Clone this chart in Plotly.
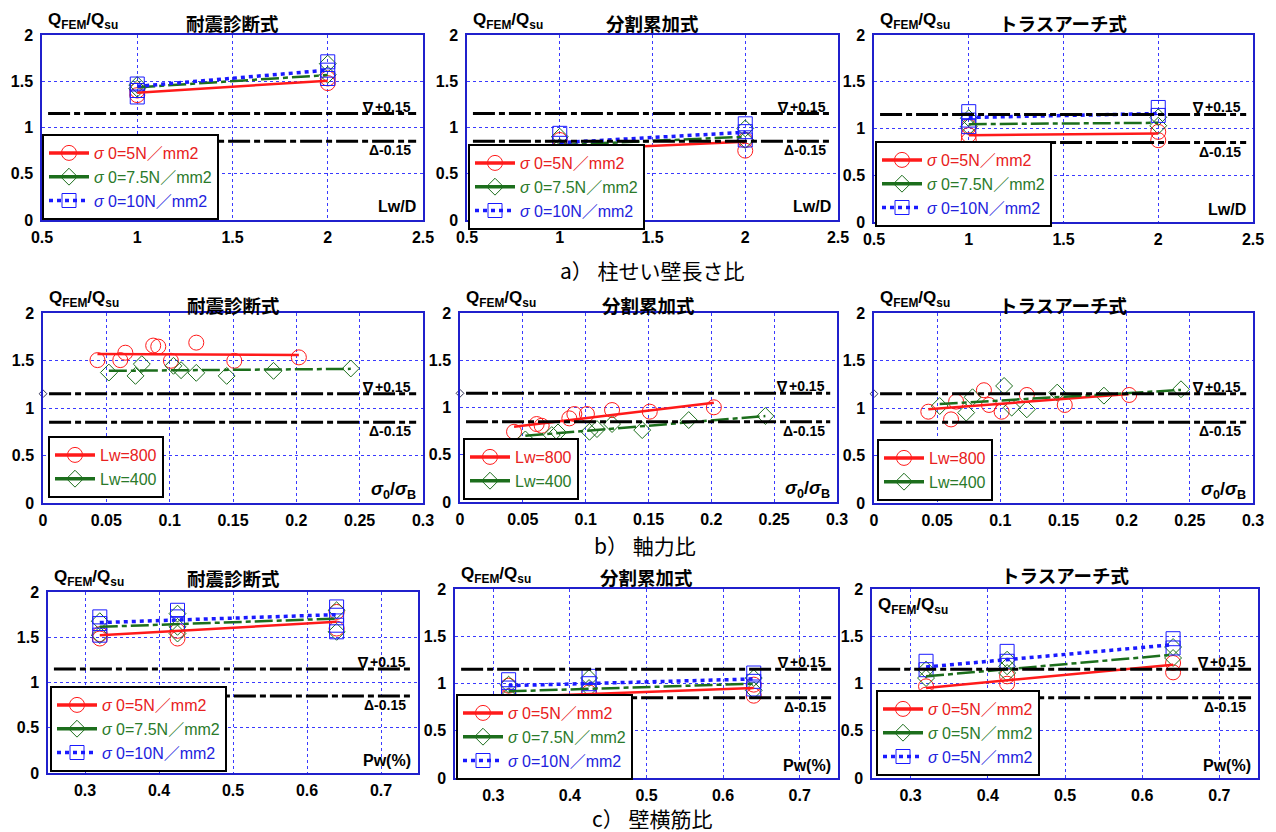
import plotly.graph_objects as go

W, H = 1276, 832

# ---------------- data ----------------
A_X = [1, 2]                      # Lw/D
C_X = [0.32, 0.425, 0.64]         # Pw(%)
B_R_X = [0.043, 0.061, 0.065, 0.087, 0.091, 0.101, 0.121, 0.151, 0.202]   # σ0/σB (Lw=800)
B_G_X = [0.052, 0.073, 0.078, 0.103, 0.109, 0.121, 0.145, 0.182, 0.243]   # σ0/σB (Lw=400)
B_MARK_X = [0]
B_MARK_Y = [1.15]
REF_LINES = [1.15, 0.85]
REF_LABELS = ["∇+0.15", "Δ-0.15"]

# a) 柱せい壁長さ比  -- values grouped per x in A_X
a1_r = [[1.40, 1.35], [1.53, 1.48]]
a1_g = [[1.46, 1.42], [1.69, 1.57]]
a1_b = [[1.47, 1.40, 1.33], [1.71, 1.62, 1.53]]
a1_r_fit = [1.377, 1.506]
a1_g_fit = [1.434, 1.567]
a1_b_fit = [1.445, 1.62]

a2_r = [[0.865, 0.775, 0.703], [0.865, 0.75]]
a2_g = [[0.90, 0.79, 0.74], [0.99, 0.865]]
a2_b = [[0.937, 0.829, 0.739], [1.04, 0.955, 0.865]]
a2_r_fit = [0.757, 0.847]
a2_g_fit = [0.811, 0.90]
a2_b_fit = [0.836, 0.948]

a3_r = [[1.02, 0.93, 0.875], [0.964, 0.875]]
a3_g = [[1.11, 1.02], [1.12, 1.03]]
a3_b = [[1.18, 1.09, 1.02], [1.225, 1.14]]
a3_r_fit = [0.929, 0.946]
a3_g_fit = [1.046, 1.061]
a3_b_fit = [1.118, 1.16]

# b) 軸力比
b1_r = [1.504, 1.504, 1.582, 1.657, 1.646, 1.497, 1.688, 1.497, 1.533]
b1_g = [1.373, 1.338, 1.462, 1.444, 1.398, 1.370, 1.338, 1.391, 1.416]
b1_r_fit = [1.568, 1.557]
b1_g_fit = [1.391, 1.412]

b2_r = [0.743, 0.825, 0.807, 0.885, 0.931, 0.931, 0.973, 0.956, 1.002]
b2_g = [0.662, 0.708, 0.736, 0.743, 0.772, 0.825, 0.761, 0.867, 0.910]
b2_r_fit = [0.796, 1.051]
b2_g_fit = [0.700, 0.910]

b3_r = [0.961, 0.880, 1.067, 1.187, 1.032, 0.961, 1.137, 1.032, 1.137]
b3_g = [1.021, 0.951, 1.113, 1.232, 1.004, 0.986, 1.162, 1.130, 1.197]
b3_r_fit = [0.986, 1.148]
b3_g_fit = [1.042, 1.190]

# c) 壁横筋比 -- values grouped per x in C_X
c1_r = [[1.534, 1.486], [1.571, 1.486], [1.78, 1.596]]
c1_g = [[1.677, 1.523], [1.761, 1.615, 1.541], [1.798, 1.56]]
c1_b = [[1.725, 1.651, 1.523], [1.798, 1.725, 1.651], [1.835, 1.743, 1.633, 1.56]]
c1_r_fit = [1.523, 1.670]
c1_g_fit = [1.615, 1.706]
c1_b_fit = [1.662, 1.750]

c2_r = [[0.977, 0.864, 0.758], [0.906, 0.80], [0.988, 0.871]]
c2_g = [[0.988, 0.864, 0.794], [1.058, 0.952], [1.058, 0.928]]
c2_b = [[1.04, 0.952, 0.864], [1.076, 0.998, 0.917], [1.111, 1.023, 0.942]]
c2_r_fit = [0.857, 0.952]
c2_g_fit = [0.917, 0.998]
c2_b_fit = [0.977, 1.048]

c3_r = [[0.97, 0.882], [1.076, 0.998], [1.217, 1.118]]
c3_g = [[1.146, 1.058], [1.252, 1.182, 1.111], [1.386, 1.27]]
c3_b = [[1.235, 1.146], [1.34, 1.235], [1.474, 1.376]]
c3_r_fit = [0.952, 1.199]
c3_g_fit = [1.076, 1.305]
c3_b_fit = [1.175, 1.411]

TITLES = ["耐震診断式", "分割累加式", "トラスアーチ式"]
CAPTIONS = ["a） 柱せい壁長さ比", "b） 軸力比", "c） 壁横筋比"]
SIG_NAMES = ["<i>σ</i> 0=5N／mm2", "<i>σ</i> 0=7.5N／mm2", "<i>σ</i> 0=10N／mm2"]
SIG_NAMES_C3 = ["<i>σ</i> 0=5N／mm2", "<i>σ</i> 0=5N／mm2", "<i>σ</i> 0=5N／mm2"]
LW_NAMES = ["Lw=800", "Lw=400"]
X_NAMES = ["Lw/D", "<i>σ</i><sub>0</sub>/<i>σ</i><sub>B</sub>", "Pw(%)"]

# ---------------- styles / layout ----------------
NUM_FONT = "Liberation Sans, Arial, Noto Sans CJK JP"
JP_FONT = "Noto Sans CJK JP, Liberation Sans"
RED, GREEN, BLUE = "#ff1a1a", "#1c6e1c", "#1a1aff"
TXT = {"r": "#e82020", "g": "#2a7a2a", "b": "#2222dd"}
STY = {
    "r": dict(color=RED, sym="circle-open", size=15, dash="solid", lw=2.5),
    "g": dict(color=GREEN, sym="diamond-open", size=13, dash="18px,4px,5px,4px", lw=2.5),
    "b": dict(color=BLUE, sym="square-open", size=14, dash="4px,4px", lw=3.5),
}

# plot boxes in pixels: (left, right, top, bottom)
BOX = [
    (42, 423, 35, 220), (467, 838, 35, 220), (874, 1253, 35, 222),
    (43, 423, 313, 503), (460, 837, 313, 502), (874, 1253, 313, 503),
    (48, 418, 592, 773), (455, 838, 589, 778), (872, 1258, 589, 778),
]
LEG = [(42, 220), (468, 230), (875, 227), (48, 498), (463, 500), (877, 501),
       (50, 772), (456, 780), (876, 776)]
TITLE_Y = [23, 23, 23, 305, 305, 305, 578, 577, 575]
RANGES = [[0.5, 2.5]] * 3 + [[0, 0.3]] * 3 + [[0.25, 0.75]] * 3
DTICK = [0.5] * 3 + [0.05] * 3 + [0.1] * 3


def expand(xvals, groups):
    xs, ys = [], []
    for x, g in zip(xvals, groups):
        for v in g:
            xs.append(x)
            ys.append(v)
    return xs, ys


panels = []
for (r, g, b, rf, gf, bf) in [(a1_r, a1_g, a1_b, a1_r_fit, a1_g_fit, a1_b_fit),
                              (a2_r, a2_g, a2_b, a2_r_fit, a2_g_fit, a2_b_fit),
                              (a3_r, a3_g, a3_b, a3_r_fit, a3_g_fit, a3_b_fit)]:
    ser = []
    for key, grp, fit, nm in zip("rgb", (r, g, b), (rf, gf, bf), SIG_NAMES):
        xs, ys = expand(A_X, grp)
        ser.append((key, nm, xs, ys, A_X, fit))
    panels.append(ser)
for (r, g, rf, gf) in [(b1_r, b1_g, b1_r_fit, b1_g_fit),
                       (b2_r, b2_g, b2_r_fit, b2_g_fit),
                       (b3_r, b3_g, b3_r_fit, b3_g_fit)]:
    panels.append([
        ("r", LW_NAMES[0], B_R_X, r, [B_R_X[0], B_R_X[-1]], rf),
        ("g", LW_NAMES[1], B_G_X, g, [B_G_X[0], B_G_X[-1]], gf),
    ])
for idx, (r, g, b, rf, gf, bf) in enumerate([(c1_r, c1_g, c1_b, c1_r_fit, c1_g_fit, c1_b_fit),
                                             (c2_r, c2_g, c2_b, c2_r_fit, c2_g_fit, c2_b_fit),
                                             (c3_r, c3_g, c3_b, c3_r_fit, c3_g_fit, c3_b_fit)]):
    names = SIG_NAMES_C3 if idx == 2 else SIG_NAMES
    ser = []
    for key, grp, fit, nm in zip("rgb", (r, g, b), (rf, gf, bf), names):
        xs, ys = expand(C_X, grp)
        ser.append((key, nm, xs, ys, [C_X[0], C_X[-1]], fit))
    panels.append(ser)

fig = go.Figure()
layout = dict(width=W, height=H, margin=dict(l=0, r=0, t=0, b=0, autoexpand=False),
              paper_bgcolor="white", plot_bgcolor="white", showlegend=True)
annotations, shapes = [], []

for i, ser in enumerate(panels, start=1):
    xa = "x" if i == 1 else f"x{i}"
    ya = "y" if i == 1 else f"y{i}"
    lg = "legend" if i == 1 else f"legend{i}"
    l, rgt, top, bot = BOX[i - 1]
    axcommon = dict(showgrid=True, gridcolor="#3a3aff", gridwidth=1, griddash="dot",
                    showline=True, linecolor="#2020cc", linewidth=1.5, mirror=True,
                    zeroline=False, ticks="", automargin=False,
                    tickfont=dict(family=NUM_FONT, size=16, color="black", weight="bold"))
    layout["xaxis" if i == 1 else f"xaxis{i}"] = dict(
        domain=[l / W, rgt / W], anchor=ya, range=RANGES[i - 1], dtick=DTICK[i - 1],
        tick0=0, ticklabelstandoff=2, **axcommon)
    layout["yaxis" if i == 1 else f"yaxis{i}"] = dict(
        domain=[1 - bot / H, 1 - top / H], anchor=xa, range=[0, 2], dtick=0.5,
        ticklabelstandoff=4, **axcommon)

    # points
    for key, nm, xs, ys, fx, fy in ser:
        s = STY[key]
        fig.add_trace(go.Scatter(x=xs, y=ys, mode="markers", xaxis=xa, yaxis=ya,
                                 marker=dict(symbol=s["sym"], size=s["size"], color=s["color"],
                                             line=dict(width=1, color=s["color"])),
                                 showlegend=False, hoverinfo="skip"))
    # trend lines
    for key, nm, xs, ys, fx, fy in ser:
        s = STY[key]
        fig.add_trace(go.Scatter(x=fx, y=fy, mode="lines", xaxis=xa, yaxis=ya,
                                 line=dict(color=s["color"], width=s["lw"], dash=s["dash"]),
                                 showlegend=False, hoverinfo="skip"))
    # legend entries
    for key, nm, xs, ys, fx, fy in ser:
        s = STY[key]
        fig.add_trace(go.Scatter(x=[None], y=[None], mode="lines+markers", xaxis=xa, yaxis=ya,
                                 legend=lg,
                                 name=f"<span style='color:{TXT[key]}'>{nm}</span>",
                                 line=dict(color=s["color"], width=3.5,
                                           dash="solid" if key != "b" else "4px,4px"),
                                 marker=dict(symbol=s["sym"], size=s["size"], color=s["color"],
                                             line=dict(width=1, color=s["color"]))))
    if 4 <= i <= 6:
        fig.add_trace(go.Scatter(x=B_MARK_X, y=B_MARK_Y, mode="markers", xaxis=xa, yaxis=ya,
                                 marker=dict(symbol="diamond-open", size=6, color="#333355",
                                             line=dict(width=1)),
                                 cliponaxis=False, showlegend=False, hoverinfo="skip"))

    lx, lb = LEG[i - 1]
    layout[lg] = dict(x=lx / W, y=1 - lb / H, xanchor="left", yanchor="bottom",
                      bgcolor="white", bordercolor="black", borderwidth=2,
                      font=dict(family=NUM_FONT, size=16), tracegroupgap=0,
                      itemwidth=40)

    # reference lines
    for yv, txt, shift in zip(REF_LINES, REF_LABELS, (7, -9)):
        shapes.append(dict(type="line", xref=f"{xa} domain", yref=ya, x0=0.016, x1=0.982,
                           y0=yv, y1=yv, line=dict(color="black", width=3,
                                                   dash="22px,4px,6px,4px"), layer="above"))
        annotations.append(dict(text=txt, xref="paper", yref=ya, x=(rgt - 10) / W, y=yv,
                                xanchor="right", yanchor="middle", yshift=shift,
                                showarrow=False,
                                font=dict(family=NUM_FONT, size=14, color="black",
                                          weight="bold")))
    # titles
    annotations.append(dict(text=TITLES[(i - 1) % 3], xref="paper", yref="paper",
                            x=(l + rgt) / 2 / W, y=1 - TITLE_Y[i - 1] / H,
                            xanchor="center", yanchor="middle", showarrow=False,
                            font=dict(family=JP_FONT, size=18.5, color="black", weight="bold")))
    # y label
    if i == 9:
        qy, qanc = 1 - (top + 4) / H, "top"
    else:
        qy, qanc = 1 - (top - 1) / H, "bottom"
    annotations.append(dict(text="Q<sub>FEM</sub>/Q<sub>su</sub>", xref="paper", yref="paper",
                            x=(l + 4) / W, y=qy, xanchor="left", yanchor=qanc,
                            showarrow=False,
                            font=dict(family=NUM_FONT, size=17, color="black", weight="bold")))
    # x label
    annotations.append(dict(text=X_NAMES[(i - 1) // 3], xref="paper", yref="paper",
                            x=(rgt - 5) / W, y=1 - (bot - 13) / H, xanchor="right",
                            yanchor="middle", showarrow=False,
                            font=dict(family=NUM_FONT, size=18 if 4 <= i <= 6 else 16,
                                      color="black", weight="bold")))

for txt, cx, cy in zip(CAPTIONS, (652, 645, 652), (270, 545, 818)):
    annotations.append(dict(text=txt, xref="paper", yref="paper", x=cx / W, y=1 - cy / H,
                            xanchor="center", yanchor="middle", showarrow=False,
                            font=dict(family=JP_FONT, size=21, color="black")))

layout["annotations"] = annotations
layout["shapes"] = shapes
fig.update_layout(**layout)
fig.write_html("out.html", config={"displayModeBar": False},
               post_script="document.body.style.margin='0px';document.body.style.padding='0px';")
